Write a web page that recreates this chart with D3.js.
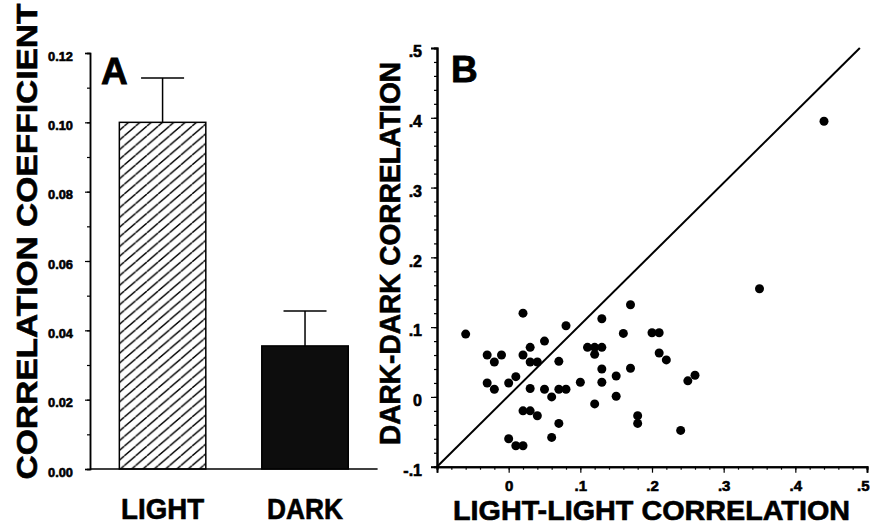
<!DOCTYPE html>
<html>
<head>
<meta charset="utf-8">
<script src="https://cdn.jsdelivr.net/npm/d3@7"></script>
<style>
    body { margin: 0; background: #fff; }
    svg { display: block; }
    text { font-family: "Liberation Sans", Arial, sans-serif; font-weight: bold; fill: #000; }
</style>
</head>
<body>
<div id="chart"></div>
<script>
// Panel A data
const barNames = ["LIGHT", "DARK"];
const barValues = [0.100, 0.0355];
const barErrors = [0.0128, 0.0101];
const barTicks = [0, 0.02, 0.04, 0.06, 0.08, 0.10, 0.12];

// Panel B data (light-light vs dark-dark correlation per cell)
const lightCorr = [-0.06, 0.02, 0.44, 0.35, 0.17, 0.13, 0.08, 0.16, 0.20, 0.21,
    0.05, 0.03, -0.03, -0.01, -0.02, 0.02, 0.03, 0.04, 0.07, 0.11,
    0.12, 0.13, 0.12, 0.21, 0.22, 0.13, 0.17, 0.15, 0.26, 0.25,
    -0.03, -0.02, 0.00, 0.01, 0.03, 0.05, 0.06, 0.07, 0.08, 0.10,
    0.13, 0.15, 0.12, 0.02, 0.03, 0.04, 0.18, 0.18, 0.07, 0.24,
    0.00, 0.01, 0.02, 0.06];
const darkCorr = [0.09, 0.12, 0.395, 0.155, 0.132, 0.112, 0.102, 0.091, 0.092, 0.092,
    0.08, 0.071, 0.06, 0.06, 0.05, 0.06, 0.05, 0.05, 0.051, 0.071,
    0.071, 0.071, 0.061, 0.063, 0.053, 0.04, 0.041, 0.03, 0.031, 0.023,
    0.02, 0.011, 0.02, 0.029, 0.012, 0.011, 0.0, 0.011, 0.011, 0.021,
    0.021, 0.001, -0.01, -0.02, -0.02, -0.027, -0.027, -0.038, -0.038, -0.048,
    -0.06, -0.07, -0.07, -0.058];
const scatterTicksY = [-0.1, 0, 0.1, 0.2, 0.3, 0.4, 0.5];
const scatterTicksX = [-0.1, 0, 0.1, 0.2, 0.3, 0.4, 0.5];
const unityLine = [[-0.1, -0.1], [0.49, 0.5]];

const width = 870;
const height = 525;

const svg = d3.select("#chart")
    .append("svg")
    .attr("width", width)
    .attr("height", height);

// hatch pattern for the LIGHT bar ("/" lines, a bit flatter than 45deg)
const hw = 11.3, hh = 9.7;
const defs = svg.append("defs");
defs.append("pattern")
    .attr("id", "hatch")
    .attr("patternUnits", "userSpaceOnUse")
    .attr("width", hw)
    .attr("height", hh)
    .append("path")
    .attr("d", `M0,${hh} L${hw},0 M${-hw},${hh} L0,0 M${hw},${hh} L${2 * hw},0`)
    .attr("stroke", "#000")
    .attr("stroke-width", 1.4);

function styleAxis(g, w) {
    g.selectAll(".domain").attr("stroke", "#000").attr("stroke-width", w);
    g.selectAll(".tick line").attr("stroke", "#000").attr("stroke-width", 1.2);
}

// heavy tick labels like the printed figure
function styleLabels(sel, size) {
    sel.attr("font-size", size)
        .attr("font-family", '"Liberation Sans", Arial, sans-serif')
        .attr("font-weight", "bold")
        .attr("fill", "#000")
        .attr("stroke", "#000")
        .attr("stroke-width", 0.6);
}

// ---------- Panel A: bar chart ----------
function drawBars() {
    const y = d3.scaleLinear().domain([0, 0.12]).range([469, 53]);
    const x = d3.scaleBand().domain(barNames).range([90, 377.6])
        .paddingInner(0.393).paddingOuter(0.206);

    const g = svg.append("g");

    // minor ticks
    g.append("g")
        .attr("transform", "translate(90,0)")
        .call(d3.axisLeft(y).tickValues(d3.range(0, 0.1201, 0.01)).tickSize(3).tickFormat(""))
        .call(a => styleAxis(a, 1.5));

    // major ticks + labels
    const yAxis = g.append("g")
        .attr("transform", "translate(90,0)")
        .call(d3.axisLeft(y).tickValues(barTicks).tickSize(5).tickPadding(12).tickFormat(d3.format(".2f")))
        .call(a => styleAxis(a, 1.5));
    yAxis.selectAll(".tick text")
        .call(styleLabels, 13)
        .attr("dy", "0.55em")
        .attr("textLength", 25)
        .attr("lengthAdjust", "spacingAndGlyphs");

    // baseline
    g.append("line")
        .attr("x1", x.range()[0]).attr("x2", x.range()[1])
        .attr("y1", y(0)).attr("y2", y(0))
        .attr("stroke", "#000").attr("stroke-width", 1.5);

    // bars
    g.selectAll(".bar")
        .data(barNames)
        .enter()
        .append("rect")
        .attr("x", d => x(d))
        .attr("y", (d, i) => y(barValues[i]))
        .attr("width", x.bandwidth())
        .attr("height", (d, i) => y(0) - y(barValues[i]))
        .attr("fill", (d, i) => i === 0 ? "url(#hatch)" : "#0d0d0d")
        .attr("stroke", "#000")
        .attr("stroke-width", 1.5);

    // error bars (upper only)
    const capHalf = 21.5;
    barNames.forEach((d, i) => {
        const cx = x(d) + x.bandwidth() / 2;
        g.append("line")
            .attr("x1", cx).attr("x2", cx)
            .attr("y1", y(barValues[i])).attr("y2", y(barValues[i] + barErrors[i]))
            .attr("stroke", "#000").attr("stroke-width", 1.5);
        g.append("line")
            .attr("x1", cx - capHalf).attr("x2", cx + capHalf)
            .attr("y1", y(barValues[i] + barErrors[i])).attr("y2", y(barValues[i] + barErrors[i]))
            .attr("stroke", "#000").attr("stroke-width", 1.5);
    });

    // category labels
    g.selectAll(".cat")
        .data(barNames)
        .enter()
        .append("text")
        .attr("x", d => x(d) + x.bandwidth() / 2)
        .attr("y", 519)
        .attr("text-anchor", "middle")
        .attr("font-size", 29)
        .attr("stroke", "#000")
        .attr("stroke-width", 0.6)
        .attr("textLength", d => d === "LIGHT" ? 83 : 76)
        .attr("lengthAdjust", "spacingAndGlyphs")
        .text(d => d);

    // axis title
    g.append("text")
        .attr("transform", "translate(37,241.5) rotate(-90)")
        .attr("text-anchor", "middle")
        .attr("font-size", 30)
        .attr("stroke", "#000")
        .attr("stroke-width", 0.6)
        .attr("textLength", 476)
        .attr("lengthAdjust", "spacingAndGlyphs")
        .text("CORRELATION COEFFICIENT");

    // panel letter
    g.append("text")
        .attr("x", 101).attr("y", 84)
        .attr("font-size", 37)
        .attr("stroke", "#000")
        .attr("stroke-width", 0.8)
        .text("A");
}

// ---------- Panel B: scatter ----------
function drawScatter() {
    const x = d3.scaleLinear().domain([-0.1, 0.5]).range([437, 867]);
    const y = d3.scaleLinear().domain([-0.1, 0.5]).range([466.7, 48]);
    const fmt = d => String(d).replace("0.", ".");

    const g = svg.append("g");

    // minor ticks
    g.append("g")
        .attr("transform", `translate(${x(-0.1)},0)`)
        .call(d3.axisLeft(y).tickValues(d3.range(-0.1, 0.501, 0.02)).tickSize(3).tickFormat(""))
        .call(a => styleAxis(a, 2));
    g.append("g")
        .attr("transform", `translate(0,${y(-0.1)})`)
        .call(d3.axisBottom(x).tickValues(d3.range(-0.1, 0.501, 0.02)).tickSize(3).tickFormat(""))
        .call(a => styleAxis(a, 2));

    // major ticks + labels
    const yAxis = g.append("g")
        .attr("transform", `translate(${x(-0.1)},0)`)
        .call(d3.axisLeft(y).tickValues(scatterTicksY).tickSize(6).tickPadding(9).tickFormat(fmt))
        .call(a => styleAxis(a, 2));
    yAxis.selectAll(".tick text")
        .call(styleLabels, 16)
        .attr("dy", "0.55em");

    const xAxis = g.append("g")
        .attr("transform", `translate(0,${y(-0.1)})`)
        .call(d3.axisBottom(x).tickValues(scatterTicksX).tickSize(6).tickPadding(8)
            .tickFormat(d => d === -0.1 ? "" : fmt(d)))
        .call(a => styleAxis(a, 2));
    xAxis.selectAll(".tick text")
        .call(styleLabels, 15);
    // last label sits against the right edge in the figure
    xAxis.selectAll(".tick text")
        .filter(d => d === 0.5)
        .attr("text-anchor", "end")
        .attr("x", 2);

    // unity line
    g.append("path")
        .datum(unityLine)
        .attr("d", d3.line().x(d => x(d[0])).y(d => y(d[1])))
        .attr("fill", "none")
        .attr("stroke", "#000")
        .attr("stroke-width", 2);

    // points
    g.selectAll(".dot")
        .data(lightCorr)
        .enter()
        .append("circle")
        .attr("cx", d => x(d))
        .attr("cy", (d, i) => y(darkCorr[i]))
        .attr("r", 4.5)
        .attr("fill", "#000");

    // axis titles
    g.append("text")
        .attr("transform", "translate(400,253.5) rotate(-90)")
        .attr("text-anchor", "middle")
        .attr("font-size", 30)
        .attr("stroke", "#000")
        .attr("stroke-width", 0.6)
        .attr("textLength", 383)
        .attr("lengthAdjust", "spacingAndGlyphs")
        .text("DARK-DARK CORRELATION");

    g.append("text")
        .attr("x", 651.5).attr("y", 519.5)
        .attr("text-anchor", "middle")
        .attr("font-size", 27)
        .attr("stroke", "#000")
        .attr("stroke-width", 0.6)
        .attr("textLength", 397)
        .attr("lengthAdjust", "spacingAndGlyphs")
        .text("LIGHT-LIGHT CORRELATION");

    // panel letter
    g.append("text")
        .attr("x", 451).attr("y", 82)
        .attr("font-size", 37)
        .attr("stroke", "#000")
        .attr("stroke-width", 0.8)
        .text("B");
}

drawBars();
drawScatter();
</script>
</body>
</html>
